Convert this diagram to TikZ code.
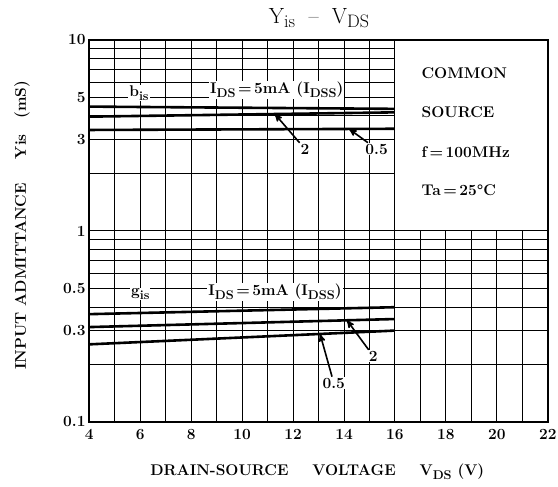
\documentclass[tikz,border=0pt]{standalone}
\usepackage{tikz}
\usetikzlibrary{arrows,calc,positioning}
\newcommand{\lblfont}{\fontsize{15.5}{18}\selectfont\bfseries}
\newcommand{\unten}[1]{\raisebox{-0.5ex}{\scalebox{0.82}{#1}}}
\tikzset{
    >=stealth',
    gitter/.style={line width=1pt},
    rahmen/.style={line width=2pt},
    kurve/.style={line width=2.6pt},
    pil/.style={
           ->,
           line width=1.6pt},
    lbl/.style={
           font=\lblfont,
           inner sep=1pt},
    tag/.style={lbl, fill=white}
}

\begin{document}
\begin{tikzpicture}[x=25.47pt, y=191pt]
        \useasboundingbox (0.494,-1.3351) rectangle (22.402,1.2094);

        % grid: volts across, log10 of mS up
        \foreach \v in {5,...,16} \draw[gitter] (\v,-1) -- (\v,1);
        \foreach \v in {17,...,21} \draw[gitter] (\v,-1) -- (\v,0);
        \foreach \m in {2,...,9} \draw[gitter] (4,{log10(\m/10)}) -- (22,{log10(\m/10)});
        \foreach \m in {2,...,9} \draw[gitter] (4,{log10(\m)}) -- (16,{log10(\m)});
        \draw[gitter] (4,0) -- (22,0);
        \draw[rahmen] (4,-1) rectangle (22,1);

        \node[font=\fontsize{22}{26}\selectfont] (titel) at (13.02,1.115) {Y\unten{is} \ -- \ V\unten{DS}};

        \foreach \w [count=\i] in {10,5,3,1,0.5,0.3,0.1}
            \node[lbl, anchor=east] (yl\i) at (3.9,{log10(\w)}) {\w};
        \foreach \v in {4,6,...,22}
            \node[lbl, anchor=north] (xl\v) at (\v,-1.03) {\v};

        \node[lbl] (xtitel) at (12.95,-1.262) {DRAIN-SOURCE\quad\, VOLTAGE\quad\, V\unten{DS} (V)};
        \node[lbl, rotate=90] (ytitel) at (1.36,0.03) {INPUT ADMITTANCE\quad\, Yis\quad (mS)};

        \node[lbl, anchor=west] (common) at (17.0,0.827) {COMMON};
        \node[lbl, anchor=west] (source) at (17.0,0.623) {SOURCE};
        \node[lbl, anchor=west] (freq) at (17.0,0.414) {f\,=\,100MHz};
        \node[lbl, anchor=west] (temp) at (17.0,0.215) {Ta\,=\,25\textdegree C};

        % b_is
        \node[tag] (bis) at (5.95,0.722) {b\unten{is}};
        \node[tag] (bidss) at (11.36,0.738) {I\unten{DS}\,=\,5mA (I\unten{DSS})};
        \draw[kurve] (4,{log10(4.48)}) -- (16,{log10(4.36)});
        \draw[kurve] (4,{log10(3.97)}) -- (16,{log10(4.18)}) coordinate[pos=0.607] (bm);
        \draw[kurve] (4,{log10(3.38)}) -- (16,{log10(3.43)}) coordinate[pos=0.85] (bu);
        \node[tag] (b2) at (12.47,0.429) {2};
        \node[tag] (b05) at (15.28,0.429) {0.5};
        \draw[pil] (b2) -- (bm);
        \draw[pil] (b05) -- (bu);

        % g_is
        \node[tag] (gis) at (6,-0.33) {g\unten{is}};
        \node[tag] (gidss) at (11.29,-0.319) {I\unten{DS}\,=\,5mA (I\unten{DSS})};
        \draw[kurve] (4,{log10(0.367)}) -- (16,{log10(0.399)});
        \draw[kurve] (4,{log10(0.314)}) -- (16,{log10(0.346)}) coordinate[pos=0.843] (gm);
        \draw[kurve] (4,{log10(0.255)}) -- (16,{log10(0.301)}) coordinate[pos=0.755] (gu);
        \node[tag] (g2) at (15.15,-0.655) {2};
        \node[tag] (g05) at (13.6,-0.796) {0.5};
        \draw[pil] (g2) -- (gm);
        \draw[pil] (g05) -- (gu);

    \end{tikzpicture}
\end{document}
